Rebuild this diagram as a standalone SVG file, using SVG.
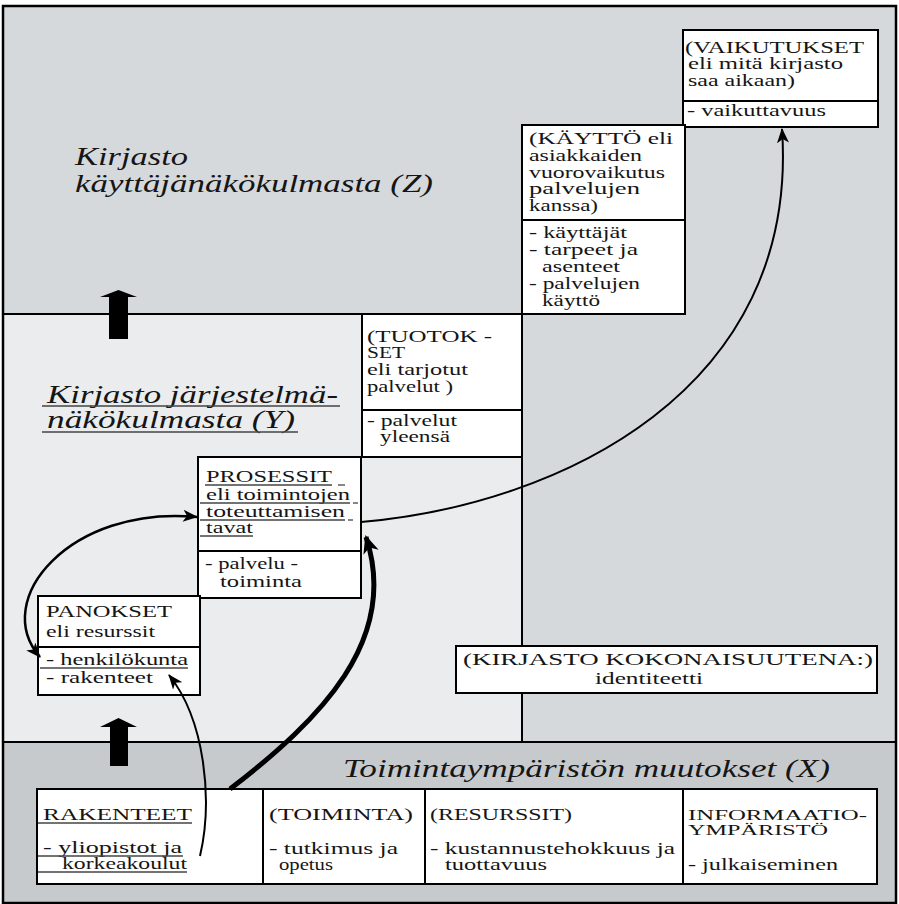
<svg xmlns="http://www.w3.org/2000/svg" width="899" height="904" viewBox="0 0 899 904">
<defs>
<style>
.box{fill:#fff;stroke:#000;stroke-width:2}
.div{stroke:#000;stroke-width:2}
.t{font-family:"Liberation Serif","Times New Roman",serif;font-size:17px;fill:#151515}
.sm{font-size:15px}
.ti{font-family:"Liberation Serif","Times New Roman",serif;font-style:italic;font-size:26px;fill:#151515}
.ul{stroke:#444;stroke-width:1.3}
.edge{fill:none;stroke:#000;stroke-width:2}
.thick{fill:none;stroke:#000;stroke-width:5}
</style>
<marker id="ah" markerUnits="userSpaceOnUse" markerWidth="16" markerHeight="12" refX="14" refY="6" orient="auto"><path d="M0,0 L15,6 L0,12 L4,6 z" fill="#000"/></marker>
<marker id="ah2" markerUnits="userSpaceOnUse" markerWidth="16" markerHeight="12" refX="14" refY="6" orient="auto-start-reverse"><path d="M0,0 L15,6 L0,12 L4,6 z" fill="#000"/></marker>
<marker id="ahb" markerUnits="userSpaceOnUse" markerWidth="20" markerHeight="16" refX="16" refY="8" orient="auto"><path d="M0,0 L18,8 L0,16 L5,8 z" fill="#000"/></marker>
</defs>

<!-- regions -->
<rect x="3" y="6" width="893" height="897" fill="#d5d9dc" stroke="none"/>
<rect x="3" y="314" width="519" height="428" fill="#eaecee" stroke="none"/>
<rect x="3" y="742" width="893" height="161" fill="#c6cacd" stroke="none"/>
<line class="div" x1="3" y1="314" x2="522" y2="314"/>
<line class="div" x1="522" y1="314" x2="522" y2="742"/>
<line class="div" x1="3" y1="742" x2="896" y2="742"/>
<rect x="3" y="6" width="893" height="897" fill="none" stroke="#000" stroke-width="2.5"/>

<!-- titles -->
<g id="title-z">
<text class="ti" x="75" y="165" textLength="113" lengthAdjust="spacingAndGlyphs">Kirjasto</text>
<text class="ti" x="75" y="192" textLength="358" lengthAdjust="spacingAndGlyphs">käyttäjänäkökulmasta (Z)</text>
</g>
<g id="title-y">
<text class="ti" x="47" y="403" textLength="291" lengthAdjust="spacingAndGlyphs">Kirjasto järjestelmä-</text>
<text class="ti" x="47" y="428" textLength="248" lengthAdjust="spacingAndGlyphs">näkökulmasta (Y)</text>
<line class="ul" x1="42" y1="406" x2="340" y2="406"/>
<line class="ul" x1="42" y1="432" x2="298" y2="432"/>
</g>
<g id="title-x">
<text class="ti" x="343" y="777" textLength="487" lengthAdjust="spacingAndGlyphs">Toimintaympäristön muutokset (X)</text>
</g>

<!-- up arrows -->
<g id="arrow-up-1"><polygon points="100,297 118.5,290 137,297 128,297 128,339 109,339 109,297" fill="#000"/></g>
<g id="arrow-up-2"><polygon points="100,727 118.5,718 137,727 128,727 128,766 110,766 110,727" fill="#000"/></g>

<!-- VAIKUTUKSET -->
<g id="vaikutukset">
<rect class="box" x="683" y="30" width="195" height="97"/>
<line class="div" x1="683" y1="101" x2="878" y2="101"/>
<text class="t" x="685" y="53" textLength="179" lengthAdjust="spacingAndGlyphs">(VAIKUTUKSET</text>
<text class="t" x="688" y="69" textLength="155" lengthAdjust="spacingAndGlyphs">eli mitä kirjasto</text>
<text class="t" x="688" y="86" textLength="107" lengthAdjust="spacingAndGlyphs">saa aikaan)</text>
<text class="t" x="687" y="116" textLength="139" lengthAdjust="spacingAndGlyphs">- vaikuttavuus</text>
</g>

<!-- KÄYTTÖ -->
<g id="kaytto">
<rect class="box" x="522" y="125" width="163" height="189"/>
<line class="div" x1="522" y1="220" x2="685" y2="220"/>
<text class="t" x="529" y="144" textLength="144" lengthAdjust="spacingAndGlyphs">(KÄYTTÖ eli</text>
<text class="t" x="529" y="161" textLength="113" lengthAdjust="spacingAndGlyphs">asiakkaiden</text>
<text class="t" x="529" y="178" textLength="136" lengthAdjust="spacingAndGlyphs">vuorovaikutus</text>
<text class="t" x="529" y="194" textLength="111" lengthAdjust="spacingAndGlyphs">palvelujen</text>
<text class="t" x="529" y="211" textLength="69" lengthAdjust="spacingAndGlyphs">kanssa)</text>
<text class="t" x="529" y="238" textLength="98" lengthAdjust="spacingAndGlyphs">- käyttäjät</text>
<text class="t" x="529" y="255" textLength="109" lengthAdjust="spacingAndGlyphs">- tarpeet ja</text>
<text class="t" x="542" y="272" textLength="78" lengthAdjust="spacingAndGlyphs">asenteet</text>
<text class="t" x="529" y="289" textLength="111" lengthAdjust="spacingAndGlyphs">- palvelujen</text>
<text class="t" x="542" y="306" textLength="58" lengthAdjust="spacingAndGlyphs">käyttö</text>
</g>

<!-- TUOTOKSET -->
<g id="tuotokset">
<rect class="box" x="362" y="314" width="160" height="143"/>
<line class="div" x1="362" y1="410" x2="522" y2="410"/>
<text class="t" x="367" y="342" textLength="125" lengthAdjust="spacingAndGlyphs">(TUOTOK -</text>
<text class="t" x="367" y="358" textLength="38" lengthAdjust="spacingAndGlyphs">SET</text>
<text class="t" x="367" y="375" textLength="101" lengthAdjust="spacingAndGlyphs">eli tarjotut</text>
<text class="t" x="367" y="392" textLength="86" lengthAdjust="spacingAndGlyphs">palvelut )</text>
<text class="t" x="367" y="426" textLength="90" lengthAdjust="spacingAndGlyphs">- palvelut</text>
<text class="t" x="380" y="442" textLength="70" lengthAdjust="spacingAndGlyphs">yleensä</text>
</g>

<!-- PROSESSIT -->
<g id="prosessit">
<rect class="box" x="198" y="457" width="163" height="141"/>
<line class="div" x1="198" y1="551" x2="361" y2="551"/>
<text class="t" x="206" y="482" textLength="126" lengthAdjust="spacingAndGlyphs">PROSESSIT</text>
<text class="t" x="206" y="500" textLength="144" lengthAdjust="spacingAndGlyphs">eli toimintojen</text>
<text class="t" x="206" y="517" textLength="139" lengthAdjust="spacingAndGlyphs">toteuttamisen</text>
<text class="t" x="206" y="533" textLength="47" lengthAdjust="spacingAndGlyphs">tavat</text>
<line class="ul" x1="205" y1="485" x2="332" y2="485"/>
<line class="ul" x1="338" y1="485" x2="345" y2="485"/>
<line class="ul" x1="200" y1="503" x2="350" y2="503"/>
<line class="ul" x1="353" y1="503" x2="358" y2="503"/>
<line class="ul" x1="200" y1="520" x2="345" y2="520"/>
<line class="ul" x1="348" y1="520" x2="353" y2="520"/>
<line class="ul" x1="200" y1="536" x2="253" y2="536"/>
<text class="t" x="205" y="569" textLength="93" lengthAdjust="spacingAndGlyphs">- palvelu -</text>
<text class="t" x="220" y="587" textLength="82" lengthAdjust="spacingAndGlyphs">toiminta</text>
</g>

<!-- PANOKSET -->
<g id="panokset">
<rect class="box" x="38" y="596" width="162" height="99"/>
<line class="div" x1="38" y1="647" x2="200" y2="647"/>
<text class="t" x="46" y="617" textLength="126" lengthAdjust="spacingAndGlyphs">PANOKSET</text>
<text class="t" x="46" y="637" textLength="109" lengthAdjust="spacingAndGlyphs">eli resurssit</text>
<text class="t" x="46" y="665" textLength="142" lengthAdjust="spacingAndGlyphs">- henkilökunta</text>
<text class="t" x="46" y="683" textLength="107" lengthAdjust="spacingAndGlyphs">- rakenteet</text>
<line class="ul" x1="40" y1="668" x2="188" y2="668"/>
</g>

<!-- KIRJASTO KOKONAISUUTENA -->
<g id="kokonaisuutena">
<rect class="box" x="456" y="646" width="421" height="47"/>
<text class="t" x="463" y="665" textLength="410" lengthAdjust="spacingAndGlyphs">(KIRJASTO KOKONAISUUTENA:)</text>
<text class="t" x="595" y="684" textLength="108" lengthAdjust="spacingAndGlyphs">identiteetti</text>
</g>

<!-- bottom row -->
<g id="rakenteet">
<rect class="box" x="37" y="789" width="226" height="95"/>
<text class="t" x="43" y="820" textLength="149" lengthAdjust="spacingAndGlyphs">RAKENTEET</text>
<line class="ul" x1="38" y1="823" x2="192" y2="823"/>
<text class="t" x="43" y="853" textLength="139" lengthAdjust="spacingAndGlyphs">- yliopistot ja</text>
<text class="t" x="62" y="869" textLength="125" lengthAdjust="spacingAndGlyphs">korkeakoulut</text>
<line class="ul" x1="38" y1="856" x2="183" y2="856"/>
<line class="ul" x1="38" y1="872" x2="187" y2="872"/>
</g>
<g id="toiminta">
<rect class="box" x="263" y="789" width="162" height="95"/>
<text class="t" x="269" y="820" textLength="144" lengthAdjust="spacingAndGlyphs">(TOIMINTA)</text>
<text class="t" x="269" y="854" textLength="129" lengthAdjust="spacingAndGlyphs">- tutkimus ja</text>
<text class="t" x="279" y="870" textLength="54" lengthAdjust="spacingAndGlyphs">opetus</text>
</g>
<g id="resurssit">
<rect class="box" x="425" y="789" width="258" height="95"/>
<text class="t" x="430" y="820" textLength="142" lengthAdjust="spacingAndGlyphs">(RESURSSIT)</text>
<text class="t" x="430" y="854" textLength="245" lengthAdjust="spacingAndGlyphs">- kustannustehokkuus ja</text>
<text class="t" x="445" y="870" textLength="102" lengthAdjust="spacingAndGlyphs">tuottavuus</text>
</g>
<g id="informaatio">
<rect class="box" x="683" y="789" width="194" height="95"/>
<text class="t sm" x="688" y="820" textLength="179" lengthAdjust="spacingAndGlyphs">INFORMAATIO-</text>
<text class="t sm" x="688" y="835" textLength="140" lengthAdjust="spacingAndGlyphs">YMPÄRISTÖ</text>
<text class="t" x="688" y="870" textLength="150" lengthAdjust="spacingAndGlyphs">- julkaiseminen</text>
</g>

<!-- connectors -->
<g id="connectors">
<path class="edge" d="M361,522 C560,505 800,390 782,129" marker-end="url(#ah)"/>
<path class="thick" d="M230,789 C320,720 400,640 366,537" marker-end="url(#ahb)"/>
<path class="edge" style="stroke-width:2.5" d="M197,517 C70,505 -10,600 40,657" marker-start="url(#ah2)" marker-end="url(#ah2)"/>
<path class="edge" d="M200,856 C213,800 205,720 169,675" marker-end="url(#ah)"/>
</g>
</svg>
